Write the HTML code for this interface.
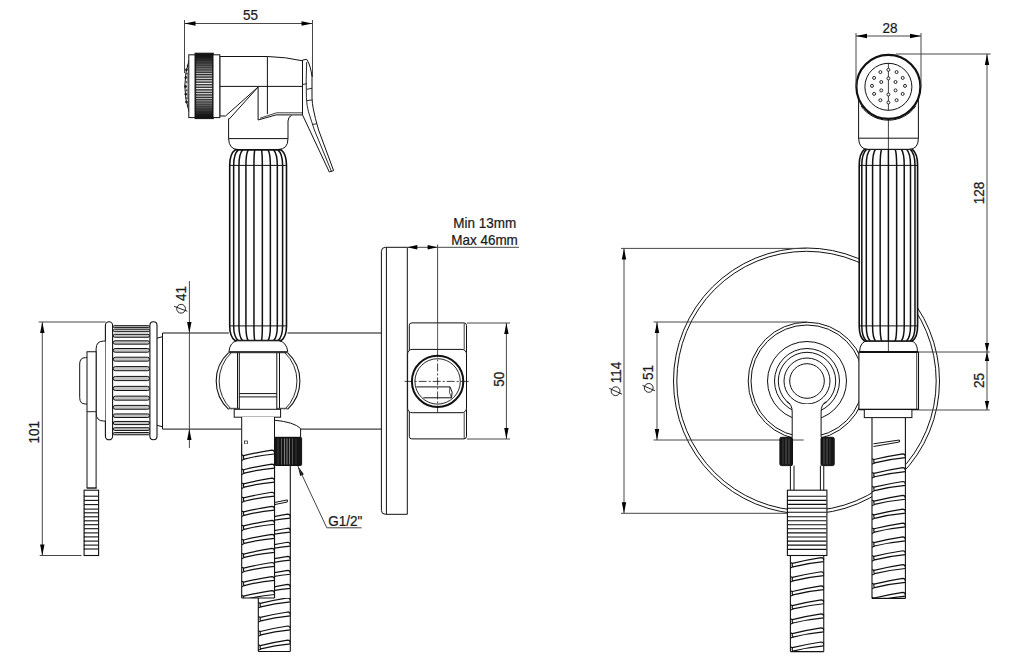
<!DOCTYPE html>
<html><head><meta charset="utf-8"><style>
html,body{margin:0;padding:0;background:#fff;}
svg{display:block;}
text{font-family:"Liberation Sans",sans-serif;fill:#1a1a1a;stroke:#1a1a1a;stroke-width:0.25px;}
</style></head><body>
<svg width="1024" height="672" viewBox="0 0 1024 672" stroke="#111" fill="none" stroke-linecap="butt">
<rect x="0" y="0" width="1024" height="672" fill="#fff" stroke="none"/>
<line x1="184.50" y1="20.00" x2="184.50" y2="73.00" stroke-width="1" stroke="#484848" />
<line x1="312.50" y1="20.00" x2="312.50" y2="77.00" stroke-width="1" stroke="#484848" />
<line x1="184.50" y1="23.50" x2="312.50" y2="23.50" stroke-width="1" stroke="#484848" />
<path d="M184.50,23.50 L195.50,21.30 L195.50,25.70 Z" fill="#000" stroke="none"/>
<path d="M312.50,23.50 L301.50,25.70 L301.50,21.30 Z" fill="#000" stroke="none"/>
<text transform="translate(250.40,20.20) rotate(0) scale(0.900,1)" font-size="15.00" text-anchor="middle">55</text>
<path d="M228.6,115.5 L228.6,138.6 Q229,149.5 238,149.5 L278,149.5 Q288,149.5 288,138.6 L288,121 Q288.3,116.5 291.5,115.5 Z" stroke-width="0" fill="#fff" stroke="none"/>
<path d="M228.6,118.5 L228.6,138.6 Q229,149.5 238,149.5 L278,149.5 Q288,149.5 288,138.6 L288,121 Q288.3,116.5 291.5,115.5" stroke-width="1" fill="none" />
<line x1="228.60" y1="138.60" x2="288.00" y2="138.60" stroke-width="1" />
<path d="M219.8,56.5 L267.4,56.5 Q286,57 302.5,60.8 L302.5,114.9 L276,114.9 L258.1,120 L258.1,87 L225.5,116 L219.8,116 Z" stroke-width="1" fill="#fff" />
<line x1="267.40" y1="56.50" x2="267.40" y2="114.00" stroke-width="1" />
<line x1="219.80" y1="86.40" x2="302.50" y2="86.40" stroke-width="1" />
<path d="M258.1,87 L229,119.3" stroke-width="1" fill="none" />
<path d="M260,118.2 L276.5,112.8 L302.5,112.8" stroke-width="0.8" fill="none" />
<path d="M189.1,60 Q180.5,86 189.1,112" stroke-width="1" fill="#fff" />
<path d="M189.1,66 Q185,86 189.1,106" stroke-width="0.5" fill="none" />
<circle cx="186.40" cy="69.80" r="1.00" stroke-width="0.8" fill="#222" />
<circle cx="185.80" cy="77.50" r="1.00" stroke-width="0.8" fill="#222" />
<circle cx="185.60" cy="86.50" r="1.00" stroke-width="0.8" fill="#222" />
<circle cx="185.80" cy="94.20" r="1.00" stroke-width="0.8" fill="#222" />
<circle cx="186.50" cy="102.00" r="1.00" stroke-width="0.8" fill="#222" />
<circle cx="187.60" cy="65.50" r="0.60" stroke-width="0.5" fill="#666" />
<circle cx="186.90" cy="73.60" r="0.60" stroke-width="0.5" fill="#666" />
<circle cx="186.60" cy="82.00" r="0.60" stroke-width="0.5" fill="#666" />
<circle cx="186.60" cy="90.30" r="0.60" stroke-width="0.5" fill="#666" />
<circle cx="186.90" cy="98.20" r="0.60" stroke-width="0.5" fill="#666" />
<circle cx="187.60" cy="106.00" r="0.60" stroke-width="0.5" fill="#666" />
<rect x="188.80" y="54.80" width="6.60" height="62.80" rx="0" stroke-width="1" fill="#fff" />
<linearGradient id="kg" x1="0" y1="0" x2="0" y2="1"><stop offset="0" stop-color="#111"/><stop offset="0.12" stop-color="#222"/><stop offset="0.5" stop-color="#3a3a3a"/><stop offset="0.88" stop-color="#222"/><stop offset="1" stop-color="#111"/></linearGradient>
<rect x="195.10" y="53.20" width="18.20" height="65.40" rx="0" stroke-width="1" fill="url(#kg)" />
<line x1="196.20" y1="113.25" x2="212.20" y2="113.25" stroke-width="0.4940478765775978" stroke="rgba(255,255,255,0.09)" />
<line x1="196.20" y1="111.99" x2="212.20" y2="111.99" stroke-width="0.5757025463768145" stroke="rgba(255,255,255,0.14)" />
<line x1="196.20" y1="110.54" x2="212.20" y2="110.54" stroke-width="0.6532002690114703" stroke="rgba(255,255,255,0.20)" />
<line x1="196.20" y1="108.91" x2="212.20" y2="108.91" stroke-width="0.7259814604734803" stroke="rgba(255,255,255,0.27)" />
<line x1="196.20" y1="107.12" x2="212.20" y2="107.12" stroke-width="0.793520593180267" stroke="rgba(255,255,255,0.36)" />
<line x1="196.20" y1="105.18" x2="212.20" y2="105.18" stroke-width="0.8553299906260208" stroke="rgba(255,255,255,0.45)" />
<line x1="196.20" y1="103.10" x2="212.20" y2="103.10" stroke-width="0.910963348723549" stroke="rgba(255,255,255,0.54)" />
<line x1="196.20" y1="100.89" x2="212.20" y2="100.89" stroke-width="0.9600189584103265" stroke="rgba(255,255,255,0.63)" />
<line x1="196.20" y1="98.58" x2="212.20" y2="98.58" stroke-width="1.0021426062494372" stroke="rgba(255,255,255,0.72)" />
<line x1="196.20" y1="96.17" x2="212.20" y2="96.17" stroke-width="1.037030132081181" stroke="rgba(255,255,255,0.80)" />
<line x1="196.20" y1="93.69" x2="212.20" y2="93.69" stroke-width="1.0644296252574332" stroke="rgba(255,255,255,0.86)" />
<line x1="196.20" y1="91.16" x2="212.20" y2="91.16" stroke-width="1.084143243600517" stroke="rgba(255,255,255,0.91)" />
<line x1="196.20" y1="88.59" x2="212.20" y2="88.59" stroke-width="1.0960286419525196" stroke="rgba(255,255,255,0.94)" />
<line x1="196.20" y1="86.00" x2="212.20" y2="86.00" stroke-width="1.1" stroke="rgba(255,255,255,0.95)" />
<line x1="196.20" y1="83.41" x2="212.20" y2="83.41" stroke-width="1.0960286419525196" stroke="rgba(255,255,255,0.94)" />
<line x1="196.20" y1="80.84" x2="212.20" y2="80.84" stroke-width="1.084143243600517" stroke="rgba(255,255,255,0.91)" />
<line x1="196.20" y1="78.31" x2="212.20" y2="78.31" stroke-width="1.0644296252574332" stroke="rgba(255,255,255,0.86)" />
<line x1="196.20" y1="75.83" x2="212.20" y2="75.83" stroke-width="1.037030132081181" stroke="rgba(255,255,255,0.80)" />
<line x1="196.20" y1="73.42" x2="212.20" y2="73.42" stroke-width="1.0021426062494372" stroke="rgba(255,255,255,0.72)" />
<line x1="196.20" y1="71.11" x2="212.20" y2="71.11" stroke-width="0.9600189584103265" stroke="rgba(255,255,255,0.63)" />
<line x1="196.20" y1="68.90" x2="212.20" y2="68.90" stroke-width="0.910963348723549" stroke="rgba(255,255,255,0.54)" />
<line x1="196.20" y1="66.82" x2="212.20" y2="66.82" stroke-width="0.8553299906260208" stroke="rgba(255,255,255,0.45)" />
<line x1="196.20" y1="64.88" x2="212.20" y2="64.88" stroke-width="0.793520593180267" stroke="rgba(255,255,255,0.36)" />
<line x1="196.20" y1="63.09" x2="212.20" y2="63.09" stroke-width="0.7259814604734803" stroke="rgba(255,255,255,0.27)" />
<line x1="196.20" y1="61.46" x2="212.20" y2="61.46" stroke-width="0.6532002690114703" stroke="rgba(255,255,255,0.20)" />
<line x1="196.20" y1="60.01" x2="212.20" y2="60.01" stroke-width="0.5757025463768145" stroke="rgba(255,255,255,0.14)" />
<line x1="196.20" y1="58.75" x2="212.20" y2="58.75" stroke-width="0.4940478765775978" stroke="rgba(255,255,255,0.09)" />
<rect x="213.00" y="54.80" width="6.80" height="62.80" rx="0" stroke-width="1" fill="#fff" />
<path d="M302.5,60.1 L306.7,59.3 Q311,66 312,77.4 L312,97.6 Q312.3,104 313.2,108.3 Q315,118 318.6,130 L333.6,170.6 L329.3,172 L309.6,130 L302.5,114.9 Z" stroke-width="1" fill="#fff" />
<path d="M306.7,62 Q305.8,80 306.4,97.6 Q306.8,106 308.5,111.9 L314.4,130 L331.4,171.3" stroke-width="0.9" fill="none" />
<line x1="302.50" y1="84.50" x2="306.70" y2="83.70" stroke-width="0.9" />
<line x1="306.70" y1="89.30" x2="312.00" y2="88.30" stroke-width="0.9" />
<line x1="306.70" y1="100.60" x2="312.00" y2="100.00" stroke-width="0.9" />
<line x1="312.30" y1="124.40" x2="316.80" y2="123.80" stroke-width="0.9" />
<path d="M235.10,149.90 Q229.70,153.90 229.70,165.40 L229.70,325.90 Q229.70,336.60 235.10,340.60 L281.10,340.60 Q286.50,336.60 286.50,325.90 L286.50,165.40 Q286.50,153.90 281.10,149.90 Z" stroke-width="1.6" fill="#fff"/>
<path d="M238.30,149.90 Q233.65,153.90 233.65,165.40 L233.65,325.90 Q233.65,336.60 238.30,340.60" stroke-width="1.5" fill="none" stroke="#111"/>
<path d="M242.59,149.90 Q238.95,153.90 238.95,165.40 L238.95,325.90 Q238.95,336.60 242.59,340.60" stroke-width="1.5" fill="none" stroke="#111"/>
<path d="M248.23,149.90 Q245.92,153.90 245.92,165.40 L245.92,325.90 Q245.92,336.60 248.23,340.60" stroke-width="1.5" fill="none" stroke="#111"/>
<path d="M254.74,149.90 Q253.95,153.90 253.95,165.40 L253.95,325.90 Q253.95,336.60 254.74,340.60" stroke-width="1.5" fill="none" stroke="#111"/>
<path d="M261.54,149.90 Q262.35,153.90 262.35,165.40 L262.35,325.90 Q262.35,336.60 261.54,340.60" stroke-width="1.5" fill="none" stroke="#111"/>
<path d="M268.04,149.90 Q270.37,153.90 270.37,165.40 L270.37,325.90 Q270.37,336.60 268.04,340.60" stroke-width="1.5" fill="none" stroke="#111"/>
<path d="M273.67,149.90 Q277.32,153.90 277.32,165.40 L277.32,325.90 Q277.32,336.60 273.67,340.60" stroke-width="1.5" fill="none" stroke="#111"/>
<path d="M277.94,149.90 Q282.60,153.90 282.60,165.40 L282.60,325.90 Q282.60,336.60 277.94,340.60" stroke-width="1.5" fill="none" stroke="#111"/>
<line x1="229.70" y1="165.40" x2="286.50" y2="165.40" stroke-width="1" />
<line x1="229.70" y1="325.90" x2="286.50" y2="325.90" stroke-width="1" />
<line x1="162.50" y1="333.00" x2="228.80" y2="333.00" stroke-width="1" />
<line x1="287.50" y1="333.00" x2="381.40" y2="333.00" stroke-width="1" />
<line x1="162.50" y1="429.10" x2="241.70" y2="429.10" stroke-width="1" />
<line x1="300.60" y1="429.10" x2="381.40" y2="429.10" stroke-width="1" />
<line x1="162.50" y1="333.00" x2="162.50" y2="429.10" stroke-width="1" />
<path d="M228.9,351.7 Q230,342 237,340.8 L279,340.8 Q286.5,342 287.8,351.7 Z" stroke-width="1" fill="#fff" />
<path d="M228.6,352.7 A38.5,38.5 0 0 0 228.6,409.3" stroke-width="1.1" fill="none" />
<path d="M231.3,352.7 A39,39 0 0 0 231.3,409.3" stroke-width="0.9" fill="none" />
<path d="M287.5,352.7 A38.5,38.5 0 0 1 287.5,409.3" stroke-width="1.1" fill="none" />
<path d="M284.8,352.7 A39,39 0 0 1 284.8,409.3" stroke-width="0.9" fill="none" />
<line x1="237.50" y1="352.70" x2="237.50" y2="409.30" stroke-width="1" />
<line x1="239.30" y1="352.70" x2="239.30" y2="409.30" stroke-width="1" />
<line x1="276.80" y1="352.70" x2="276.80" y2="409.30" stroke-width="1" />
<line x1="279.50" y1="352.70" x2="279.50" y2="409.30" stroke-width="1" />
<line x1="228.60" y1="408.50" x2="239.30" y2="408.50" stroke-width="1.4" stroke="#555" />
<line x1="276.80" y1="408.50" x2="287.50" y2="408.50" stroke-width="1.4" stroke="#555" />
<line x1="228.60" y1="352.70" x2="287.50" y2="352.70" stroke-width="1" />
<line x1="239.30" y1="393.60" x2="276.80" y2="393.60" stroke-width="1" />
<line x1="239.30" y1="396.90" x2="276.80" y2="396.90" stroke-width="1" />
<rect x="234.20" y="409.30" width="46.40" height="7.90" rx="0" stroke-width="1" fill="#fff" />
<rect x="241.7" y="417" width="32.8" height="37" fill="#fff" stroke="none"/>
<line x1="241.70" y1="417.00" x2="241.70" y2="455.00" stroke-width="1" />
<line x1="274.50" y1="417.00" x2="274.50" y2="450.00" stroke-width="1" />
<rect x="244.50" y="441.00" width="3.00" height="3.00" rx="0" stroke-width="0.7" fill="none" />
<clipPath id="hc1"><rect x="273.50" y="465.50" width="17.80" height="132.50"/></clipPath>
<rect x="274.50" y="465.50" width="15.80" height="132.50" fill="#fff" stroke="none"/>
<g clip-path="url(#hc1)">
<path d="M258.30,518.85 L260.30,519.65 Q274.30,516.17 287.70,514.17 Q290.30,514.47 290.30,516.77" stroke-width="1.2" fill="none" />
<path d="M260.30,519.65 Q259.50,522.05 260.90,523.05 Q274.30,519.51 290.30,518.07" stroke-width="1.2" fill="none" />
<path d="M260.90,523.05 L258.30,524.35" stroke-width="1.08" fill="none" />
<path d="M258.30,532.90 L260.30,533.70 Q274.30,530.22 287.70,528.22 Q290.30,528.52 290.30,530.82" stroke-width="1.2" fill="none" />
<path d="M260.30,533.70 Q259.50,536.10 260.90,537.10 Q274.30,533.56 290.30,532.12" stroke-width="1.2" fill="none" />
<path d="M260.90,537.10 L258.30,538.40" stroke-width="1.08" fill="none" />
<path d="M258.30,546.95 L260.30,547.75 Q274.30,544.27 287.70,542.27 Q290.30,542.57 290.30,544.87" stroke-width="1.2" fill="none" />
<path d="M260.30,547.75 Q259.50,550.15 260.90,551.15 Q274.30,547.61 290.30,546.17" stroke-width="1.2" fill="none" />
<path d="M260.90,551.15 L258.30,552.45" stroke-width="1.08" fill="none" />
<path d="M258.30,561.00 L260.30,561.80 Q274.30,558.32 287.70,556.32 Q290.30,556.62 290.30,558.92" stroke-width="1.2" fill="none" />
<path d="M260.30,561.80 Q259.50,564.20 260.90,565.20 Q274.30,561.66 290.30,560.22" stroke-width="1.2" fill="none" />
<path d="M260.90,565.20 L258.30,566.50" stroke-width="1.08" fill="none" />
<path d="M258.30,575.05 L260.30,575.85 Q274.30,572.37 287.70,570.37 Q290.30,570.67 290.30,572.97" stroke-width="1.2" fill="none" />
<path d="M260.30,575.85 Q259.50,578.25 260.90,579.25 Q274.30,575.71 290.30,574.27" stroke-width="1.2" fill="none" />
<path d="M260.90,579.25 L258.30,580.55" stroke-width="1.08" fill="none" />
<path d="M258.30,589.10 L260.30,589.90 Q274.30,586.42 287.70,584.42 Q290.30,584.72 290.30,587.02" stroke-width="1.2" fill="none" />
<path d="M260.30,589.90 Q259.50,592.30 260.90,593.30 Q274.30,589.76 290.30,588.32" stroke-width="1.2" fill="none" />
<path d="M260.90,593.30 L258.30,594.60" stroke-width="1.08" fill="none" />
<path d="M258.30,603.15 L260.30,603.95 Q274.30,600.47 287.70,598.47 Q290.30,598.77 290.30,601.07" stroke-width="1.2" fill="none" />
<path d="M260.30,603.95 Q259.50,606.35 260.90,607.35 Q274.30,603.81 290.30,602.37" stroke-width="1.2" fill="none" />
<path d="M260.90,607.35 L258.30,608.65" stroke-width="1.08" fill="none" />
</g>
<line x1="274.50" y1="465.50" x2="274.50" y2="598.00" stroke-width="1.1" />
<line x1="290.30" y1="465.50" x2="290.30" y2="598.00" stroke-width="1.1" />
<path d="M274.5,502.5 L287.3,499.9 L287.3,502 L274.5,504.6" stroke-width="1" fill="none" />
<clipPath id="hc2"><rect x="257.30" y="598.00" width="34.00" height="53.50"/></clipPath>
<rect x="258.30" y="598.00" width="32.00" height="53.50" fill="#fff" stroke="none"/>
<g clip-path="url(#hc2)">
<path d="M258.30,560.45 L260.30,561.25 Q274.30,557.77 287.70,555.77 Q290.30,556.07 290.30,558.37" stroke-width="1.2" fill="none" />
<path d="M260.30,561.25 Q259.50,563.65 260.90,564.65 Q274.30,561.11 290.30,559.67" stroke-width="1.2" fill="none" />
<path d="M260.90,564.65 L258.30,565.95" stroke-width="1.08" fill="none" />
<path d="M258.30,574.50 L260.30,575.30 Q274.30,571.82 287.70,569.82 Q290.30,570.12 290.30,572.42" stroke-width="1.2" fill="none" />
<path d="M260.30,575.30 Q259.50,577.70 260.90,578.70 Q274.30,575.16 290.30,573.72" stroke-width="1.2" fill="none" />
<path d="M260.90,578.70 L258.30,580.00" stroke-width="1.08" fill="none" />
<path d="M258.30,588.55 L260.30,589.35 Q274.30,585.87 287.70,583.87 Q290.30,584.17 290.30,586.47" stroke-width="1.2" fill="none" />
<path d="M260.30,589.35 Q259.50,591.75 260.90,592.75 Q274.30,589.21 290.30,587.77" stroke-width="1.2" fill="none" />
<path d="M260.90,592.75 L258.30,594.05" stroke-width="1.08" fill="none" />
<path d="M258.30,602.60 L260.30,603.40 Q274.30,599.92 287.70,597.92 Q290.30,598.22 290.30,600.52" stroke-width="1.2" fill="none" />
<path d="M260.30,603.40 Q259.50,605.80 260.90,606.80 Q274.30,603.26 290.30,601.82" stroke-width="1.2" fill="none" />
<path d="M260.90,606.80 L258.30,608.10" stroke-width="1.08" fill="none" />
<path d="M258.30,616.65 L260.30,617.45 Q274.30,613.97 287.70,611.97 Q290.30,612.27 290.30,614.57" stroke-width="1.2" fill="none" />
<path d="M260.30,617.45 Q259.50,619.85 260.90,620.85 Q274.30,617.31 290.30,615.87" stroke-width="1.2" fill="none" />
<path d="M260.90,620.85 L258.30,622.15" stroke-width="1.08" fill="none" />
<path d="M258.30,630.70 L260.30,631.50 Q274.30,628.02 287.70,626.02 Q290.30,626.32 290.30,628.62" stroke-width="1.2" fill="none" />
<path d="M260.30,631.50 Q259.50,633.90 260.90,634.90 Q274.30,631.36 290.30,629.92" stroke-width="1.2" fill="none" />
<path d="M260.90,634.90 L258.30,636.20" stroke-width="1.08" fill="none" />
<path d="M258.30,644.75 L260.30,645.55 Q274.30,642.07 287.70,640.07 Q290.30,640.37 290.30,642.67" stroke-width="1.2" fill="none" />
<path d="M260.30,645.55 Q259.50,647.95 260.90,648.95 Q274.30,645.41 290.30,643.97" stroke-width="1.2" fill="none" />
<path d="M260.90,648.95 L258.30,650.25" stroke-width="1.08" fill="none" />
<path d="M258.30,658.80 L260.30,659.60 Q274.30,656.12 287.70,654.12 Q290.30,654.42 290.30,656.72" stroke-width="1.2" fill="none" />
<path d="M260.30,659.60 Q259.50,662.00 260.90,663.00 Q274.30,659.46 290.30,658.02" stroke-width="1.2" fill="none" />
<path d="M260.90,663.00 L258.30,664.30" stroke-width="1.08" fill="none" />
</g>
<line x1="258.30" y1="598.00" x2="258.30" y2="651.50" stroke-width="1.1" />
<line x1="290.30" y1="598.00" x2="290.30" y2="651.50" stroke-width="1.1" />
<line x1="258.30" y1="651.50" x2="290.30" y2="651.50" stroke-width="1.1" />
<clipPath id="hc3"><rect x="240.70" y="444.00" width="34.80" height="154.00"/></clipPath>
<rect x="241.70" y="444.00" width="32.80" height="154.00" fill="#fff" stroke="none"/>
<g clip-path="url(#hc3)">
<path d="M241.70,454.90 L243.70,455.70 Q258.10,452.16 271.90,450.09 Q274.50,450.39 274.50,452.69" stroke-width="1.2" fill="none" />
<path d="M243.70,455.70 Q242.90,458.10 244.30,459.10 Q258.10,455.49 274.50,453.99" stroke-width="1.2" fill="none" />
<path d="M244.30,459.10 L241.70,460.40" stroke-width="1.08" fill="none" />
<path d="M241.70,468.95 L243.70,469.75 Q258.10,466.21 271.90,464.14 Q274.50,464.44 274.50,466.74" stroke-width="1.2" fill="none" />
<path d="M243.70,469.75 Q242.90,472.15 244.30,473.15 Q258.10,469.54 274.50,468.04" stroke-width="1.2" fill="none" />
<path d="M244.30,473.15 L241.70,474.45" stroke-width="1.08" fill="none" />
<path d="M241.70,483.00 L243.70,483.80 Q258.10,480.26 271.90,478.19 Q274.50,478.49 274.50,480.79" stroke-width="1.2" fill="none" />
<path d="M243.70,483.80 Q242.90,486.20 244.30,487.20 Q258.10,483.59 274.50,482.09" stroke-width="1.2" fill="none" />
<path d="M244.30,487.20 L241.70,488.50" stroke-width="1.08" fill="none" />
<path d="M241.70,497.05 L243.70,497.85 Q258.10,494.31 271.90,492.24 Q274.50,492.54 274.50,494.84" stroke-width="1.2" fill="none" />
<path d="M243.70,497.85 Q242.90,500.25 244.30,501.25 Q258.10,497.64 274.50,496.14" stroke-width="1.2" fill="none" />
<path d="M244.30,501.25 L241.70,502.55" stroke-width="1.08" fill="none" />
<path d="M241.70,511.10 L243.70,511.90 Q258.10,508.36 271.90,506.29 Q274.50,506.59 274.50,508.89" stroke-width="1.2" fill="none" />
<path d="M243.70,511.90 Q242.90,514.30 244.30,515.30 Q258.10,511.69 274.50,510.19" stroke-width="1.2" fill="none" />
<path d="M244.30,515.30 L241.70,516.60" stroke-width="1.08" fill="none" />
<path d="M241.70,525.15 L243.70,525.95 Q258.10,522.41 271.90,520.34 Q274.50,520.64 274.50,522.94" stroke-width="1.2" fill="none" />
<path d="M243.70,525.95 Q242.90,528.35 244.30,529.35 Q258.10,525.74 274.50,524.24" stroke-width="1.2" fill="none" />
<path d="M244.30,529.35 L241.70,530.65" stroke-width="1.08" fill="none" />
<path d="M241.70,539.20 L243.70,540.00 Q258.10,536.46 271.90,534.39 Q274.50,534.69 274.50,536.99" stroke-width="1.2" fill="none" />
<path d="M243.70,540.00 Q242.90,542.40 244.30,543.40 Q258.10,539.79 274.50,538.29" stroke-width="1.2" fill="none" />
<path d="M244.30,543.40 L241.70,544.70" stroke-width="1.08" fill="none" />
<path d="M241.70,553.25 L243.70,554.05 Q258.10,550.51 271.90,548.44 Q274.50,548.74 274.50,551.04" stroke-width="1.2" fill="none" />
<path d="M243.70,554.05 Q242.90,556.45 244.30,557.45 Q258.10,553.84 274.50,552.34" stroke-width="1.2" fill="none" />
<path d="M244.30,557.45 L241.70,558.75" stroke-width="1.08" fill="none" />
<path d="M241.70,567.30 L243.70,568.10 Q258.10,564.56 271.90,562.49 Q274.50,562.79 274.50,565.09" stroke-width="1.2" fill="none" />
<path d="M243.70,568.10 Q242.90,570.50 244.30,571.50 Q258.10,567.89 274.50,566.39" stroke-width="1.2" fill="none" />
<path d="M244.30,571.50 L241.70,572.80" stroke-width="1.08" fill="none" />
<path d="M241.70,581.35 L243.70,582.15 Q258.10,578.61 271.90,576.54 Q274.50,576.84 274.50,579.14" stroke-width="1.2" fill="none" />
<path d="M243.70,582.15 Q242.90,584.55 244.30,585.55 Q258.10,581.94 274.50,580.44" stroke-width="1.2" fill="none" />
<path d="M244.30,585.55 L241.70,586.85" stroke-width="1.08" fill="none" />
<path d="M241.70,595.40 L243.70,596.20 Q258.10,592.66 271.90,590.59 Q274.50,590.89 274.50,593.19" stroke-width="1.2" fill="none" />
<path d="M243.70,596.20 Q242.90,598.60 244.30,599.60 Q258.10,595.99 274.50,594.49" stroke-width="1.2" fill="none" />
<path d="M244.30,599.60 L241.70,600.90" stroke-width="1.08" fill="none" />
<path d="M241.70,609.45 L243.70,610.25 Q258.10,606.71 271.90,604.64 Q274.50,604.94 274.50,607.24" stroke-width="1.2" fill="none" />
<path d="M243.70,610.25 Q242.90,612.65 244.30,613.65 Q258.10,610.04 274.50,608.54" stroke-width="1.2" fill="none" />
<path d="M244.30,613.65 L241.70,614.95" stroke-width="1.08" fill="none" />
</g>
<line x1="241.70" y1="444.00" x2="241.70" y2="598.00" stroke-width="1.1" />
<line x1="274.50" y1="444.00" x2="274.50" y2="598.00" stroke-width="1.1" />
<line x1="241.70" y1="598.00" x2="274.50" y2="598.00" stroke-width="1.1" />
<path d="M274.5,420.2 Q294,422 300.6,428.5 L300.6,437.4 L274.5,437.4 Z" stroke-width="1" fill="#fff" />
<rect x="274.50" y="437.40" width="27.10" height="28.10" rx="1" stroke-width="1" fill="#151515" />
<line x1="278.00" y1="438.50" x2="278.00" y2="464.50" stroke-width="0.9" stroke="rgba(255,255,255,0.2)" />
<line x1="281.50" y1="438.50" x2="281.50" y2="464.50" stroke-width="0.9" stroke="rgba(255,255,255,0.35)" />
<line x1="284.50" y1="438.50" x2="284.50" y2="464.50" stroke-width="0.9" stroke="rgba(255,255,255,0.5)" />
<line x1="287.00" y1="438.50" x2="287.00" y2="464.50" stroke-width="0.9" stroke="rgba(255,255,255,0.55)" />
<line x1="289.50" y1="438.50" x2="289.50" y2="464.50" stroke-width="0.9" stroke="rgba(255,255,255,0.45)" />
<line x1="292.50" y1="438.50" x2="292.50" y2="464.50" stroke-width="0.9" stroke="rgba(255,255,255,0.3)" />
<line x1="296.00" y1="438.50" x2="296.00" y2="464.50" stroke-width="0.9" stroke="rgba(255,255,255,0.15)" />
<path d="M297.80,466.00 L303.84,474.22 L300.22,475.91 Z" fill="#000" stroke="none"/>
<path d="M297.8,466 L326.8,527.8 L361.6,527.8" stroke-width="1" fill="none" stroke="#444"/>
<text transform="translate(345.20,525.90) rotate(0) scale(0.900,1)" font-size="15.00" text-anchor="middle">G1/2&quot;</text>
<rect x="105.40" y="321.80" width="7.20" height="118.00" rx="3.6" stroke-width="1.1" fill="#fff" />
<rect x="149.90" y="321.80" width="7.10" height="118.00" rx="3.5" stroke-width="1.1" fill="#fff" />
<rect x="113.30" y="325.66" width="36.20" height="1.96" rx="0.9811292792068369" stroke-width="1" fill="#c4c4c4" />
<rect x="113.30" y="329.20" width="36.20" height="2.48" rx="1.2387977811760542" stroke-width="1" fill="#c4c4c4" />
<rect x="113.30" y="334.30" width="36.20" height="2.95" rx="1.474018286413953" stroke-width="1" fill="#c4c4c4" />
<rect x="113.30" y="340.81" width="36.20" height="3.36" rx="1.6796437388961984" stroke-width="1" fill="#c4c4c4" />
<rect x="113.30" y="348.52" width="36.20" height="3.70" rx="1.8494263133006172" stroke-width="1" fill="#c4c4c4" />
<rect x="113.30" y="357.21" width="36.20" height="3.96" rx="1.978207252018059" stroke-width="1" fill="#c4c4c4" />
<rect x="113.30" y="366.60" width="36.20" height="4.12" rx="2" stroke-width="1" fill="#c4c4c4" />
<rect x="113.30" y="376.42" width="36.20" height="4.20" rx="2" stroke-width="1" fill="#c4c4c4" />
<rect x="113.30" y="386.35" width="36.20" height="4.17" rx="2" stroke-width="1" fill="#c4c4c4" />
<rect x="113.30" y="396.11" width="36.20" height="4.05" rx="2" stroke-width="1" fill="#c4c4c4" />
<rect x="113.30" y="405.40" width="36.20" height="3.84" rx="1.9192173330851547" stroke-width="1" fill="#c4c4c4" />
<rect x="113.30" y="413.93" width="36.20" height="3.54" rx="1.7693653444659763" stroke-width="1" fill="#c4c4c4" />
<rect x="113.30" y="421.44" width="36.20" height="3.16" rx="1.5809443321850565" stroke-width="1" fill="#c4c4c4" />
<rect x="113.30" y="427.71" width="36.20" height="2.72" rx="1.3596793733549184" stroke-width="1" fill="#c4c4c4" />
<rect x="113.30" y="432.55" width="36.20" height="2.22" rx="1.1122934917841438" stroke-width="1" fill="#c4c4c4" />
<line x1="157.00" y1="338.20" x2="162.50" y2="336.70" stroke-width="1" />
<line x1="157.00" y1="425.30" x2="162.50" y2="426.80" stroke-width="1" />
<path d="M105.4,341.1 L103.5,341.1 Q96.1,341.1 96.1,349 L96.1,413 Q96.1,421 103.5,421 L105.4,421" stroke-width="1" fill="#fff" />
<path d="M87,357.6 L85.5,357.6 Q79.7,357.6 79.7,364 L79.7,397.6 Q79.7,404 85.5,404 L87,404" stroke-width="1" fill="#fff" />
<rect x="87.00" y="351.75" width="9.10" height="136.30" rx="0" stroke-width="1" fill="#fff" />
<line x1="87.00" y1="411.70" x2="96.10" y2="411.70" stroke-width="0.9" />
<line x1="87.00" y1="488.00" x2="96.90" y2="488.00" stroke-width="0.8" />
<rect x="84.10" y="490.20" width="14.50" height="65.30" rx="0" stroke-width="1.1" fill="#fff" />
<path d="M84.10,495.20 Q85.30,496.20 84.10,497.20" stroke-width="0.8" fill="none" />
<line x1="84.60" y1="496.20" x2="98.10" y2="496.20" stroke-width="1.1" />
<path d="M84.10,499.40 Q85.30,500.40 84.10,501.40" stroke-width="0.8" fill="none" />
<line x1="84.60" y1="500.40" x2="98.10" y2="500.40" stroke-width="1.1" />
<path d="M84.10,503.60 Q85.30,504.60 84.10,505.60" stroke-width="0.8" fill="none" />
<line x1="84.60" y1="504.60" x2="98.10" y2="504.60" stroke-width="1.1" />
<path d="M84.10,508.10 Q85.30,509.10 84.10,510.10" stroke-width="0.8" fill="none" />
<line x1="84.60" y1="509.10" x2="98.10" y2="509.10" stroke-width="1.1" />
<path d="M84.10,511.80 Q85.30,512.80 84.10,513.80" stroke-width="0.8" fill="none" />
<line x1="84.60" y1="512.80" x2="98.10" y2="512.80" stroke-width="1.1" />
<path d="M84.10,515.80 Q85.30,516.80 84.10,517.80" stroke-width="0.8" fill="none" />
<line x1="84.60" y1="516.80" x2="98.10" y2="516.80" stroke-width="1.1" />
<path d="M84.10,519.80 Q85.30,520.80 84.10,521.80" stroke-width="0.8" fill="none" />
<line x1="84.60" y1="520.80" x2="98.10" y2="520.80" stroke-width="1.1" />
<path d="M84.10,523.70 Q85.30,524.70 84.10,525.70" stroke-width="0.8" fill="none" />
<line x1="84.60" y1="524.70" x2="98.10" y2="524.70" stroke-width="1.1" />
<path d="M84.10,527.70 Q85.30,528.70 84.10,529.70" stroke-width="0.8" fill="none" />
<line x1="84.60" y1="528.70" x2="98.10" y2="528.70" stroke-width="1.1" />
<path d="M84.10,531.90 Q85.30,532.90 84.10,533.90" stroke-width="0.8" fill="none" />
<line x1="84.60" y1="532.90" x2="98.10" y2="532.90" stroke-width="1.1" />
<path d="M84.10,535.90 Q85.30,536.90 84.10,537.90" stroke-width="0.8" fill="none" />
<line x1="84.60" y1="536.90" x2="98.10" y2="536.90" stroke-width="1.1" />
<path d="M84.10,540.10 Q85.30,541.10 84.10,542.10" stroke-width="0.8" fill="none" />
<line x1="84.60" y1="541.10" x2="98.10" y2="541.10" stroke-width="1.1" />
<path d="M84.10,544.10 Q85.30,545.10 84.10,546.10" stroke-width="0.8" fill="none" />
<line x1="84.60" y1="545.10" x2="98.10" y2="545.10" stroke-width="1.1" />
<path d="M84.10,548.00 Q85.30,549.00 84.10,550.00" stroke-width="0.8" fill="none" />
<line x1="84.60" y1="549.00" x2="98.10" y2="549.00" stroke-width="1.1" />
<line x1="42.30" y1="322.00" x2="42.30" y2="555.50" stroke-width="1" stroke="#484848" />
<line x1="38.70" y1="322.00" x2="105.70" y2="322.00" stroke-width="1" stroke="#484848" />
<line x1="39.70" y1="555.50" x2="81.50" y2="555.50" stroke-width="1" stroke="#484848" />
<path d="M42.30,322.00 L44.50,333.00 L40.10,333.00 Z" fill="#000" stroke="none"/>
<path d="M42.30,555.50 L40.10,544.50 L44.50,544.50 Z" fill="#000" stroke="none"/>
<text transform="translate(38.70,432.30) rotate(-90) scale(0.900,1)" font-size="15.00" text-anchor="middle">101</text>
<line x1="189.40" y1="281.00" x2="189.40" y2="448.00" stroke-width="1" stroke="#484848" />
<path d="M189.30,333.00 L187.10,322.00 L191.50,322.00 Z" fill="#000" stroke="none"/>
<path d="M189.30,429.10 L191.50,440.10 L187.10,440.10 Z" fill="#000" stroke="none"/>
<text transform="translate(185.50,293.60) rotate(-90) scale(0.900,1)" font-size="15.00" text-anchor="middle">41</text>
<circle cx="181.10" cy="308.75" r="4.40" stroke-width="0.9" fill="none" />
<line x1="174.00" y1="306.25" x2="187.30" y2="311.25" stroke-width="0.9" />
<path d="M407.3,247.3 L385.4,247.3 Q381.4,247.3 381.4,251.3 L381.4,510.3 Q381.4,514.3 385.4,514.3 L407.3,514.3 Z" stroke-width="1" fill="#fff" />
<line x1="386.40" y1="247.30" x2="386.40" y2="514.30" stroke-width="1" />
<line x1="407.30" y1="247.30" x2="519.00" y2="247.30" stroke-width="1" stroke="#484848" />
<path d="M407.30,247.30 L417.30,245.10 L417.30,249.50 Z" fill="#000" stroke="none"/>
<path d="M437.60,247.30 L427.60,249.50 L427.60,245.10 Z" fill="#000" stroke="none"/>
<line x1="437.60" y1="244.60" x2="437.60" y2="323.00" stroke-width="1" stroke="#484848" />
<text transform="translate(484.70,227.50) rotate(0) scale(0.900,1)" font-size="15.00" text-anchor="middle">Min 13mm</text>
<text transform="translate(484.50,244.80) rotate(0) scale(0.900,1)" font-size="15.00" text-anchor="middle">Max 46mm</text>
<rect x="409.30" y="322.90" width="57.20" height="116.00" rx="2.5" stroke-width="1" fill="#fff" />
<line x1="464.20" y1="323.50" x2="464.20" y2="349.40" stroke-width="0.8" />
<line x1="464.20" y1="412.70" x2="464.20" y2="438.30" stroke-width="0.8" />
<rect x="407.60" y="349.40" width="58.90" height="63.30" rx="4.5" stroke-width="1" fill="#fff" />
<circle cx="437.60" cy="381.40" r="25.70" stroke-width="2" fill="none" />
<circle cx="437.60" cy="381.40" r="22.70" stroke-width="0.9" fill="none" />
<path d="M416.4,386.9 L450,386.9 Q453.5,392 451.5,397.8 L423.4,397.8" stroke-width="1" fill="none" />
<path d="M450,386.9 Q448,392 451.5,397.8" stroke-width="0.7" fill="none" />
<line x1="404.70" y1="381.40" x2="469.50" y2="381.40" stroke-width="0.8" stroke-dasharray="8 2 2 2"/>
<line x1="437.60" y1="323.00" x2="437.60" y2="349.40" stroke-width="0.9" stroke="#484848" />
<line x1="437.60" y1="349.40" x2="437.60" y2="412.70" stroke-width="0.8" stroke-dasharray="8 2 2 2"/>
<line x1="506.40" y1="323.00" x2="506.40" y2="439.00" stroke-width="1" stroke="#484848" />
<line x1="467.00" y1="323.00" x2="510.00" y2="323.00" stroke-width="1" stroke="#484848" />
<line x1="467.00" y1="439.00" x2="510.00" y2="439.00" stroke-width="1" stroke="#484848" />
<path d="M506.40,323.00 L508.60,334.00 L504.20,334.00 Z" fill="#000" stroke="none"/>
<path d="M506.40,439.00 L504.20,428.00 L508.60,428.00 Z" fill="#000" stroke="none"/>
<text transform="translate(504.20,379.20) rotate(-90) scale(0.900,1)" font-size="15.00" text-anchor="middle">50</text>
<circle cx="806.50" cy="381.00" r="133.00" stroke-width="1" fill="none" />
<circle cx="806.50" cy="381.00" r="129.70" stroke-width="1" fill="none" />
<line x1="624.00" y1="248.40" x2="624.00" y2="513.30" stroke-width="1" stroke="#484848" />
<line x1="621.00" y1="248.40" x2="806.50" y2="248.40" stroke-width="1" stroke="#484848" />
<line x1="621.00" y1="513.30" x2="806.50" y2="513.30" stroke-width="1" stroke="#484848" />
<path d="M624.00,248.40 L626.20,259.40 L621.80,259.40 Z" fill="#000" stroke="none"/>
<path d="M624.00,513.30 L621.80,502.30 L626.20,502.30 Z" fill="#000" stroke="none"/>
<text transform="translate(620.50,372.40) rotate(-90) scale(0.900,1)" font-size="15.00" text-anchor="middle">114</text>
<circle cx="615.60" cy="391.20" r="4.40" stroke-width="0.9" fill="none" />
<line x1="609.20" y1="388.30" x2="622.10" y2="394.20" stroke-width="0.9" />
<line x1="657.00" y1="322.00" x2="657.00" y2="440.00" stroke-width="1" stroke="#484848" />
<line x1="653.60" y1="322.00" x2="807.00" y2="322.00" stroke-width="1" stroke="#484848" />
<line x1="653.60" y1="440.00" x2="780.00" y2="440.00" stroke-width="1" stroke="#484848" />
<path d="M657.00,322.00 L659.20,333.00 L654.80,333.00 Z" fill="#000" stroke="none"/>
<path d="M657.00,440.00 L654.80,429.00 L659.20,429.00 Z" fill="#000" stroke="none"/>
<text transform="translate(653.40,372.50) rotate(-90) scale(0.900,1)" font-size="15.00" text-anchor="middle">51</text>
<circle cx="648.75" cy="387.90" r="4.40" stroke-width="0.9" fill="none" />
<line x1="642.50" y1="385.40" x2="655.00" y2="390.80" stroke-width="0.9" />
<circle cx="807.00" cy="381.00" r="58.80" stroke-width="1" fill="#fff" />
<circle cx="807.00" cy="381.00" r="56.00" stroke-width="1" fill="none" />
<circle cx="807.00" cy="381.00" r="39.50" stroke-width="1" fill="none" />
<circle cx="807.00" cy="381.00" r="32.50" stroke-width="1" fill="none" />
<circle cx="807.00" cy="381.00" r="28.70" stroke-width="1" fill="none" />
<circle cx="807.00" cy="381.00" r="23.00" stroke-width="1" fill="none" />
<circle cx="807.00" cy="381.00" r="17.30" stroke-width="1" fill="none" />
<path d="M788,404 Q792.2,404 792.2,410 L792.2,490 L821.1,490 L821.1,410 Q821.1,404 826,404 Z" stroke-width="0" fill="#fff" stroke="none"/>
<path d="M786.5,401.5 Q792.2,404 792.2,412 L792.2,437.3" stroke-width="1" fill="none" />
<path d="M826.5,401.5 Q821.1,404 821.1,412 L821.1,437.3" stroke-width="1" fill="none" />
<line x1="792.20" y1="440.00" x2="803.70" y2="440.00" stroke-width="1" stroke="#484848" />
<rect x="779.90" y="437.30" width="12.60" height="28.30" rx="1.5" stroke-width="1" fill="#151515" />
<rect x="821.00" y="437.30" width="13.20" height="28.30" rx="1.5" stroke-width="1" fill="#151515" />
<line x1="783.00" y1="438.50" x2="783.00" y2="464.50" stroke-width="0.9" stroke="rgba(255,255,255,0.2)" />
<line x1="786.00" y1="438.50" x2="786.00" y2="464.50" stroke-width="0.9" stroke="rgba(255,255,255,0.35)" />
<line x1="789.00" y1="438.50" x2="789.00" y2="464.50" stroke-width="0.9" stroke="rgba(255,255,255,0.3)" />
<line x1="824.00" y1="438.50" x2="824.00" y2="464.50" stroke-width="0.9" stroke="rgba(255,255,255,0.3)" />
<line x1="827.00" y1="438.50" x2="827.00" y2="464.50" stroke-width="0.9" stroke="rgba(255,255,255,0.35)" />
<line x1="830.00" y1="438.50" x2="830.00" y2="464.50" stroke-width="0.9" stroke="rgba(255,255,255,0.2)" />
<line x1="790.40" y1="465.60" x2="790.40" y2="490.40" stroke-width="1" />
<line x1="794.00" y1="465.60" x2="794.00" y2="490.40" stroke-width="1" />
<line x1="820.40" y1="465.60" x2="820.40" y2="490.40" stroke-width="1" />
<line x1="823.75" y1="465.60" x2="823.75" y2="490.40" stroke-width="1" />
<clipPath id="hc4"><rect x="789.40" y="555.50" width="35.35" height="96.10"/></clipPath>
<rect x="790.40" y="555.50" width="33.35" height="96.10" fill="#fff" stroke="none"/>
<g clip-path="url(#hc4)">
<path d="M790.40,520.45 L792.40,521.25 Q807.08,517.67 821.15,515.55 Q823.75,515.85 823.75,518.15" stroke-width="1.2" fill="none" />
<path d="M792.40,521.25 Q791.60,523.65 793.00,524.65 Q807.08,521.00 823.75,519.45" stroke-width="1.2" fill="none" />
<path d="M793.00,524.65 L790.40,525.95" stroke-width="1.08" fill="none" />
<path d="M790.40,534.50 L792.40,535.30 Q807.08,531.72 821.15,529.60 Q823.75,529.90 823.75,532.20" stroke-width="1.2" fill="none" />
<path d="M792.40,535.30 Q791.60,537.70 793.00,538.70 Q807.08,535.05 823.75,533.50" stroke-width="1.2" fill="none" />
<path d="M793.00,538.70 L790.40,540.00" stroke-width="1.08" fill="none" />
<path d="M790.40,548.55 L792.40,549.35 Q807.08,545.77 821.15,543.65 Q823.75,543.95 823.75,546.25" stroke-width="1.2" fill="none" />
<path d="M792.40,549.35 Q791.60,551.75 793.00,552.75 Q807.08,549.10 823.75,547.55" stroke-width="1.2" fill="none" />
<path d="M793.00,552.75 L790.40,554.05" stroke-width="1.08" fill="none" />
<path d="M790.40,562.60 L792.40,563.40 Q807.08,559.82 821.15,557.70 Q823.75,558.00 823.75,560.30" stroke-width="1.2" fill="none" />
<path d="M792.40,563.40 Q791.60,565.80 793.00,566.80 Q807.08,563.15 823.75,561.60" stroke-width="1.2" fill="none" />
<path d="M793.00,566.80 L790.40,568.10" stroke-width="1.08" fill="none" />
<path d="M790.40,576.65 L792.40,577.45 Q807.08,573.87 821.15,571.75 Q823.75,572.05 823.75,574.35" stroke-width="1.2" fill="none" />
<path d="M792.40,577.45 Q791.60,579.85 793.00,580.85 Q807.08,577.20 823.75,575.65" stroke-width="1.2" fill="none" />
<path d="M793.00,580.85 L790.40,582.15" stroke-width="1.08" fill="none" />
<path d="M790.40,590.70 L792.40,591.50 Q807.08,587.92 821.15,585.80 Q823.75,586.10 823.75,588.40" stroke-width="1.2" fill="none" />
<path d="M792.40,591.50 Q791.60,593.90 793.00,594.90 Q807.08,591.25 823.75,589.70" stroke-width="1.2" fill="none" />
<path d="M793.00,594.90 L790.40,596.20" stroke-width="1.08" fill="none" />
<path d="M790.40,604.75 L792.40,605.55 Q807.08,601.97 821.15,599.85 Q823.75,600.15 823.75,602.45" stroke-width="1.2" fill="none" />
<path d="M792.40,605.55 Q791.60,607.95 793.00,608.95 Q807.08,605.30 823.75,603.75" stroke-width="1.2" fill="none" />
<path d="M793.00,608.95 L790.40,610.25" stroke-width="1.08" fill="none" />
<path d="M790.40,618.80 L792.40,619.60 Q807.08,616.02 821.15,613.90 Q823.75,614.20 823.75,616.50" stroke-width="1.2" fill="none" />
<path d="M792.40,619.60 Q791.60,622.00 793.00,623.00 Q807.08,619.35 823.75,617.80" stroke-width="1.2" fill="none" />
<path d="M793.00,623.00 L790.40,624.30" stroke-width="1.08" fill="none" />
<path d="M790.40,632.85 L792.40,633.65 Q807.08,630.07 821.15,627.95 Q823.75,628.25 823.75,630.55" stroke-width="1.2" fill="none" />
<path d="M792.40,633.65 Q791.60,636.05 793.00,637.05 Q807.08,633.40 823.75,631.85" stroke-width="1.2" fill="none" />
<path d="M793.00,637.05 L790.40,638.35" stroke-width="1.08" fill="none" />
<path d="M790.40,646.90 L792.40,647.70 Q807.08,644.12 821.15,642.00 Q823.75,642.30 823.75,644.60" stroke-width="1.2" fill="none" />
<path d="M792.40,647.70 Q791.60,650.10 793.00,651.10 Q807.08,647.45 823.75,645.90" stroke-width="1.2" fill="none" />
<path d="M793.00,651.10 L790.40,652.40" stroke-width="1.08" fill="none" />
<path d="M790.40,660.95 L792.40,661.75 Q807.08,658.17 821.15,656.05 Q823.75,656.35 823.75,658.65" stroke-width="1.2" fill="none" />
<path d="M792.40,661.75 Q791.60,664.15 793.00,665.15 Q807.08,661.50 823.75,659.95" stroke-width="1.2" fill="none" />
<path d="M793.00,665.15 L790.40,666.45" stroke-width="1.08" fill="none" />
</g>
<line x1="790.40" y1="555.50" x2="790.40" y2="651.60" stroke-width="1.1" />
<line x1="823.75" y1="555.50" x2="823.75" y2="651.60" stroke-width="1.1" />
<line x1="790.40" y1="651.60" x2="823.75" y2="651.60" stroke-width="1.1" />
<rect x="787.40" y="490.20" width="39.50" height="65.30" rx="0" stroke-width="1.1" fill="#fff" />
<path d="M787.40,495.20 Q788.60,496.20 787.40,497.20" stroke-width="0.8" fill="none" />
<line x1="787.90" y1="496.20" x2="826.40" y2="496.20" stroke-width="1.1" />
<path d="M787.40,499.40 Q788.60,500.40 787.40,501.40" stroke-width="0.8" fill="none" />
<line x1="787.90" y1="500.40" x2="826.40" y2="500.40" stroke-width="1.1" />
<path d="M787.40,503.40 Q788.60,504.40 787.40,505.40" stroke-width="0.8" fill="none" />
<line x1="787.90" y1="504.40" x2="826.40" y2="504.40" stroke-width="1.1" />
<path d="M787.40,507.30 Q788.60,508.30 787.40,509.30" stroke-width="0.8" fill="none" />
<line x1="787.90" y1="508.30" x2="826.40" y2="508.30" stroke-width="1.1" />
<path d="M787.40,511.30 Q788.60,512.30 787.40,513.30" stroke-width="0.8" fill="none" />
<line x1="787.90" y1="512.30" x2="826.40" y2="512.30" stroke-width="1.1" />
<path d="M787.40,515.80 Q788.60,516.80 787.40,517.80" stroke-width="0.8" fill="none" />
<line x1="787.90" y1="516.80" x2="826.40" y2="516.80" stroke-width="1.1" />
<path d="M787.40,519.80 Q788.60,520.80 787.40,521.80" stroke-width="0.8" fill="none" />
<line x1="787.90" y1="520.80" x2="826.40" y2="520.80" stroke-width="1.1" />
<path d="M787.40,523.70 Q788.60,524.70 787.40,525.70" stroke-width="0.8" fill="none" />
<line x1="787.90" y1="524.70" x2="826.40" y2="524.70" stroke-width="1.1" />
<path d="M787.40,527.70 Q788.60,528.70 787.40,529.70" stroke-width="0.8" fill="none" />
<line x1="787.90" y1="528.70" x2="826.40" y2="528.70" stroke-width="1.1" />
<path d="M787.40,531.90 Q788.60,532.90 787.40,533.90" stroke-width="0.8" fill="none" />
<line x1="787.90" y1="532.90" x2="826.40" y2="532.90" stroke-width="1.1" />
<path d="M787.40,536.00 Q788.60,537.00 787.40,538.00" stroke-width="0.8" fill="none" />
<line x1="787.90" y1="537.00" x2="826.40" y2="537.00" stroke-width="1.1" />
<path d="M787.40,540.10 Q788.60,541.10 787.40,542.10" stroke-width="0.8" fill="none" />
<line x1="787.90" y1="541.10" x2="826.40" y2="541.10" stroke-width="1.1" />
<path d="M787.40,544.10 Q788.60,545.10 787.40,546.10" stroke-width="0.8" fill="none" />
<line x1="787.90" y1="545.10" x2="826.40" y2="545.10" stroke-width="1.1" />
<path d="M787.40,548.40 Q788.60,549.40 787.40,550.40" stroke-width="0.8" fill="none" />
<line x1="787.90" y1="549.40" x2="826.40" y2="549.40" stroke-width="1.1" />
<clipPath id="hc5"><rect x="871.00" y="417.60" width="35.40" height="180.80"/></clipPath>
<rect x="872.00" y="417.60" width="33.40" height="180.80" fill="#fff" stroke="none"/>
<g clip-path="url(#hc5)">
<path d="M872.00,458.70 L874.00,459.50 Q888.70,455.92 902.80,453.79 Q905.40,454.09 905.40,456.39" stroke-width="1.2" fill="none" />
<path d="M874.00,459.50 Q873.20,461.90 874.60,462.90 Q888.70,459.24 905.40,457.69" stroke-width="1.2" fill="none" />
<path d="M874.60,462.90 L872.00,464.20" stroke-width="1.08" fill="none" />
<path d="M872.00,472.55 L874.00,473.35 Q888.70,469.77 902.80,467.64 Q905.40,467.94 905.40,470.24" stroke-width="1.2" fill="none" />
<path d="M874.00,473.35 Q873.20,475.75 874.60,476.75 Q888.70,473.09 905.40,471.54" stroke-width="1.2" fill="none" />
<path d="M874.60,476.75 L872.00,478.05" stroke-width="1.08" fill="none" />
<path d="M872.00,486.40 L874.00,487.20 Q888.70,483.62 902.80,481.49 Q905.40,481.79 905.40,484.09" stroke-width="1.2" fill="none" />
<path d="M874.00,487.20 Q873.20,489.60 874.60,490.60 Q888.70,486.94 905.40,485.39" stroke-width="1.2" fill="none" />
<path d="M874.60,490.60 L872.00,491.90" stroke-width="1.08" fill="none" />
<path d="M872.00,500.25 L874.00,501.05 Q888.70,497.47 902.80,495.34 Q905.40,495.64 905.40,497.94" stroke-width="1.2" fill="none" />
<path d="M874.00,501.05 Q873.20,503.45 874.60,504.45 Q888.70,500.79 905.40,499.24" stroke-width="1.2" fill="none" />
<path d="M874.60,504.45 L872.00,505.75" stroke-width="1.08" fill="none" />
<path d="M872.00,514.10 L874.00,514.90 Q888.70,511.32 902.80,509.19 Q905.40,509.49 905.40,511.79" stroke-width="1.2" fill="none" />
<path d="M874.00,514.90 Q873.20,517.30 874.60,518.30 Q888.70,514.64 905.40,513.09" stroke-width="1.2" fill="none" />
<path d="M874.60,518.30 L872.00,519.60" stroke-width="1.08" fill="none" />
<path d="M872.00,527.95 L874.00,528.75 Q888.70,525.17 902.80,523.04 Q905.40,523.34 905.40,525.64" stroke-width="1.2" fill="none" />
<path d="M874.00,528.75 Q873.20,531.15 874.60,532.15 Q888.70,528.49 905.40,526.94" stroke-width="1.2" fill="none" />
<path d="M874.60,532.15 L872.00,533.45" stroke-width="1.08" fill="none" />
<path d="M872.00,541.80 L874.00,542.60 Q888.70,539.02 902.80,536.89 Q905.40,537.19 905.40,539.49" stroke-width="1.2" fill="none" />
<path d="M874.00,542.60 Q873.20,545.00 874.60,546.00 Q888.70,542.34 905.40,540.79" stroke-width="1.2" fill="none" />
<path d="M874.60,546.00 L872.00,547.30" stroke-width="1.08" fill="none" />
<path d="M872.00,555.65 L874.00,556.45 Q888.70,552.87 902.80,550.74 Q905.40,551.04 905.40,553.34" stroke-width="1.2" fill="none" />
<path d="M874.00,556.45 Q873.20,558.85 874.60,559.85 Q888.70,556.19 905.40,554.64" stroke-width="1.2" fill="none" />
<path d="M874.60,559.85 L872.00,561.15" stroke-width="1.08" fill="none" />
<path d="M872.00,569.50 L874.00,570.30 Q888.70,566.72 902.80,564.59 Q905.40,564.89 905.40,567.19" stroke-width="1.2" fill="none" />
<path d="M874.00,570.30 Q873.20,572.70 874.60,573.70 Q888.70,570.04 905.40,568.49" stroke-width="1.2" fill="none" />
<path d="M874.60,573.70 L872.00,575.00" stroke-width="1.08" fill="none" />
<path d="M872.00,583.35 L874.00,584.15 Q888.70,580.57 902.80,578.44 Q905.40,578.74 905.40,581.04" stroke-width="1.2" fill="none" />
<path d="M874.00,584.15 Q873.20,586.55 874.60,587.55 Q888.70,583.89 905.40,582.34" stroke-width="1.2" fill="none" />
<path d="M874.60,587.55 L872.00,588.85" stroke-width="1.08" fill="none" />
<path d="M872.00,597.20 L874.00,598.00 Q888.70,594.42 902.80,592.29 Q905.40,592.59 905.40,594.89" stroke-width="1.2" fill="none" />
<path d="M874.00,598.00 Q873.20,600.40 874.60,601.40 Q888.70,597.74 905.40,596.19" stroke-width="1.2" fill="none" />
<path d="M874.60,601.40 L872.00,602.70" stroke-width="1.08" fill="none" />
<path d="M872.00,611.05 L874.00,611.85 Q888.70,608.27 902.80,606.14 Q905.40,606.44 905.40,608.74" stroke-width="1.2" fill="none" />
<path d="M874.00,611.85 Q873.20,614.25 874.60,615.25 Q888.70,611.59 905.40,610.04" stroke-width="1.2" fill="none" />
<path d="M874.60,615.25 L872.00,616.55" stroke-width="1.08" fill="none" />
</g>
<line x1="872.00" y1="417.60" x2="872.00" y2="598.40" stroke-width="1.1" />
<line x1="905.40" y1="417.60" x2="905.40" y2="598.40" stroke-width="1.1" />
<line x1="872.00" y1="598.40" x2="905.40" y2="598.40" stroke-width="1.1" />
<path d="M873.5,443.8 L899.4,440 L899.4,442 L873.5,446.5" stroke-width="1" fill="none" />
<rect x="858.90" y="352.00" width="59.60" height="57.50" rx="0" stroke-width="1.1" fill="#fff" />
<line x1="916.70" y1="352.00" x2="916.70" y2="409.50" stroke-width="0.8" />
<line x1="858.90" y1="409.50" x2="918.50" y2="409.50" stroke-width="1.6" />
<rect x="864.30" y="409.50" width="47.60" height="8.10" rx="0" stroke-width="1" fill="#fff" />
<path d="M859.5,352 Q860,341 868,341 L910,341 Q917.5,341 917.5,352 Z" stroke-width="1" fill="#fff" />
<line x1="859.50" y1="352.00" x2="917.50" y2="352.00" stroke-width="1.8" />
<path d="M864.46,149.30 Q859.20,153.30 859.20,165.40 L859.20,325.90 Q859.20,337.00 864.46,341.00 L912.34,341.00 Q917.60,337.00 917.60,325.90 L917.60,165.40 Q917.60,153.30 912.34,149.30 Z" stroke-width="1.6" fill="#fff"/>
<path d="M866.59,149.30 Q861.81,153.30 861.81,165.40 L861.81,325.90 Q861.81,337.00 866.59,341.00" stroke-width="1.5" fill="none" stroke="#111"/>
<path d="M870.27,149.30 Q866.30,153.30 866.30,165.40 L866.30,325.90 Q866.30,337.00 870.27,341.00" stroke-width="1.5" fill="none" stroke="#111"/>
<path d="M875.43,149.30 Q872.58,153.30 872.58,165.40 L872.58,325.90 Q872.58,337.00 875.43,341.00" stroke-width="1.5" fill="none" stroke="#111"/>
<path d="M881.64,149.30 Q880.16,153.30 880.16,165.40 L880.16,325.90 Q880.16,337.00 881.64,341.00" stroke-width="1.5" fill="none" stroke="#111"/>
<path d="M888.40,149.30 Q888.40,153.30 888.40,165.40 L888.40,325.90 Q888.40,337.00 888.40,341.00" stroke-width="1.5" fill="none" stroke="#111"/>
<path d="M895.16,149.30 Q896.64,153.30 896.64,165.40 L896.64,325.90 Q896.64,337.00 895.16,341.00" stroke-width="1.5" fill="none" stroke="#111"/>
<path d="M901.37,149.30 Q904.22,153.30 904.22,165.40 L904.22,325.90 Q904.22,337.00 901.37,341.00" stroke-width="1.5" fill="none" stroke="#111"/>
<path d="M906.53,149.30 Q910.50,153.30 910.50,165.40 L910.50,325.90 Q910.50,337.00 906.53,341.00" stroke-width="1.5" fill="none" stroke="#111"/>
<path d="M910.21,149.30 Q914.99,153.30 914.99,165.40 L914.99,325.90 Q914.99,337.00 910.21,341.00" stroke-width="1.5" fill="none" stroke="#111"/>
<line x1="859.20" y1="165.40" x2="917.60" y2="165.40" stroke-width="1" />
<line x1="859.20" y1="325.90" x2="917.60" y2="325.90" stroke-width="1" />
<line x1="888.40" y1="341.00" x2="888.40" y2="352.00" stroke-width="0.8" />
<path d="M858.6,90 L858.6,138.2 Q859,149.3 868,149.3 L909,149.3 Q918.4,149.3 918.4,138.2 L918.4,90" stroke-width="1" fill="#fff" />
<line x1="858.60" y1="138.20" x2="918.40" y2="138.20" stroke-width="1" />
<line x1="888.40" y1="119.00" x2="888.40" y2="149.30" stroke-width="0.8" />
<circle cx="888.40" cy="86.80" r="32.00" stroke-width="2.2" fill="#fff" />
<circle cx="888.40" cy="86.80" r="23.50" stroke-width="1" fill="none" />
<path d="M915.76,105.96 A33.4,33.4 0 0 1 861.04,105.96" stroke-width="1" fill="none" />
<line x1="888.40" y1="63.00" x2="888.40" y2="110.50" stroke-width="0.8" />
<circle cx="888.40" cy="69.80" r="1.50" stroke-width="0.9" fill="#fff" />
<circle cx="888.40" cy="78.40" r="1.50" stroke-width="0.9" fill="#fff" />
<circle cx="888.40" cy="94.50" r="1.50" stroke-width="0.9" fill="#fff" />
<circle cx="888.40" cy="102.50" r="1.50" stroke-width="0.9" fill="#fff" />
<circle cx="880.40" cy="72.10" r="1.50" stroke-width="0.9" fill="#fff" />
<circle cx="896.60" cy="72.10" r="1.50" stroke-width="0.9" fill="#fff" />
<circle cx="880.40" cy="100.20" r="1.50" stroke-width="0.9" fill="#fff" />
<circle cx="896.60" cy="100.20" r="1.50" stroke-width="0.9" fill="#fff" />
<circle cx="874.10" cy="77.90" r="1.50" stroke-width="0.9" fill="#fff" />
<circle cx="902.70" cy="77.90" r="1.50" stroke-width="0.9" fill="#fff" />
<circle cx="874.10" cy="93.90" r="1.50" stroke-width="0.9" fill="#fff" />
<circle cx="902.70" cy="93.90" r="1.50" stroke-width="0.9" fill="#fff" />
<circle cx="881.25" cy="82.00" r="1.50" stroke-width="0.9" fill="#fff" />
<circle cx="895.50" cy="82.00" r="1.50" stroke-width="0.9" fill="#fff" />
<circle cx="881.25" cy="90.40" r="1.50" stroke-width="0.9" fill="#fff" />
<circle cx="895.50" cy="90.40" r="1.50" stroke-width="0.9" fill="#fff" />
<circle cx="872.00" cy="85.90" r="1.50" stroke-width="0.9" fill="#fff" />
<circle cx="905.00" cy="85.90" r="1.50" stroke-width="0.9" fill="#fff" />
<line x1="856.00" y1="33.00" x2="856.00" y2="87.00" stroke-width="1" stroke="#484848" />
<line x1="921.00" y1="33.00" x2="921.00" y2="87.00" stroke-width="1" stroke="#484848" />
<line x1="856.00" y1="36.00" x2="921.00" y2="36.00" stroke-width="1" stroke="#484848" />
<path d="M856.00,36.00 L867.00,33.80 L867.00,38.20 Z" fill="#000" stroke="none"/>
<path d="M921.00,36.00 L910.00,38.20 L910.00,33.80 Z" fill="#000" stroke="none"/>
<text transform="translate(889.90,33.20) rotate(0) scale(0.900,1)" font-size="15.00" text-anchor="middle">28</text>
<line x1="987.00" y1="53.75" x2="987.00" y2="410.00" stroke-width="1" stroke="#484848" />
<line x1="896.00" y1="54.00" x2="990.70" y2="54.00" stroke-width="1" stroke="#484848" />
<line x1="918.50" y1="352.00" x2="989.80" y2="352.00" stroke-width="1" stroke="#484848" />
<line x1="918.50" y1="410.00" x2="989.80" y2="410.00" stroke-width="1" stroke="#484848" />
<path d="M987.00,54.00 L989.20,65.00 L984.80,65.00 Z" fill="#000" stroke="none"/>
<path d="M987.00,352.00 L984.80,343.00 L989.20,343.00 Z" fill="#000" stroke="none"/>
<path d="M987.00,352.00 L989.20,361.00 L984.80,361.00 Z" fill="#000" stroke="none"/>
<path d="M987.00,410.00 L984.80,401.00 L989.20,401.00 Z" fill="#000" stroke="none"/>
<text transform="translate(984.00,192.90) rotate(-90) scale(0.900,1)" font-size="15.00" text-anchor="middle">128</text>
<text transform="translate(984.00,380.50) rotate(-90) scale(0.900,1)" font-size="15.00" text-anchor="middle">25</text>
</svg>
</body></html>
